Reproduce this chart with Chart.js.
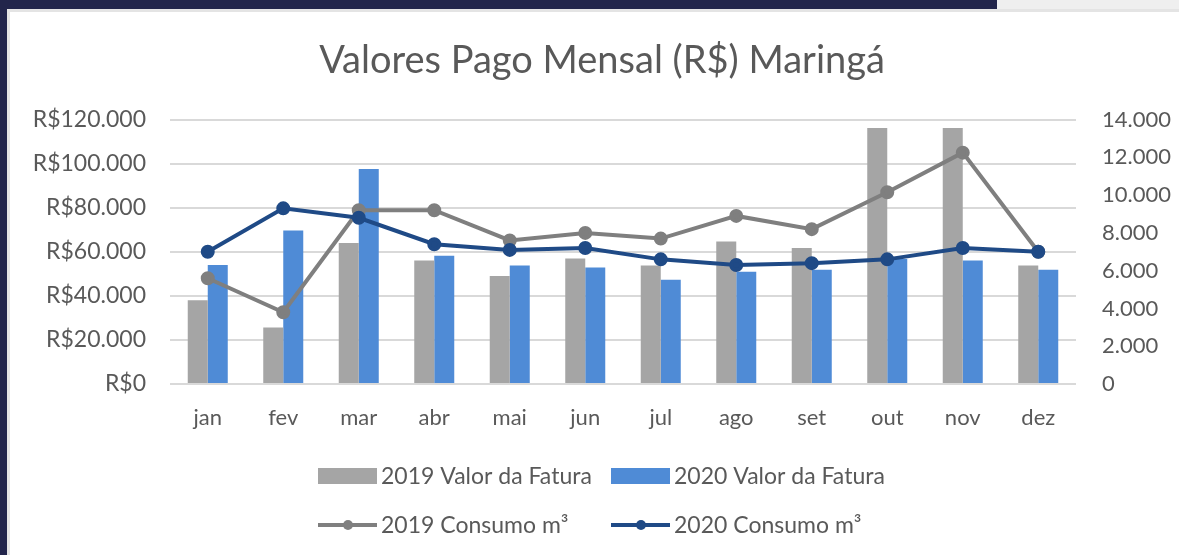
<!DOCTYPE html>
<html lang="pt">
<head>
    <meta charset="UTF-8">
    <title>Valores Pago Mensal (R$) Maringá</title>
    <style>
        html, body {
            margin: 0;
            padding: 0;
            width: 1179px;
            height: 555px;
            overflow: hidden;
            background: #22254b;
        }
        .strip {
            position: absolute;
            left: 997px;
            top: 0;
            width: 182px;
            height: 9px;
            background: #efefef;
        }
        .panel {
            position: absolute;
            left: 7px;
            top: 9px;
            width: 1172px;
            height: 546px;
            background: #ffffff;
            box-sizing: border-box;
            border-left: 3px solid #e4e4e4;
            border-top: 3px solid #e4e4e4;
        }
        #chartWrap {
            position: absolute;
            left: 0;
            top: 0;
            width: 1179px;
            height: 555px;
        }
    </style>
</head>
<body>
    <div class="strip"></div>
    <div class="panel"></div>
    <div id="chartWrap"><canvas id="myChart"></canvas></div>

    <script src="https://cdn.jsdelivr.net/npm/chart.js"></script>
    <script>
        const categories = ['jan', 'fev', 'mar', 'abr', 'mai', 'jun', 'jul', 'ago', 'set', 'out', 'nov', 'dez'];
        const fatura2019 = [38000, 25600, 64000, 56000, 49000, 57000, 53800, 64700, 61700, 116200, 116200, 53800];
        const fatura2020 = [54000, 69700, 97600, 58200, 53800, 52900, 47300, 51000, 51800, 56700, 56000, 51800];
        const consumo2019 = [5600, 3800, 9200, 9200, 7600, 8000, 7700, 8900, 8200, 10150, 12250, 7000];
        const consumo2020 = [7000, 9300, 8800, 7400, 7100, 7200, 6600, 6300, 6400, 6600, 7200, 7000];
        const leftTicks = [0, 20000, 40000, 60000, 80000, 100000, 120000];
        const rightTicks = [0, 2000, 4000, 6000, 8000, 10000, 12000, 14000];

        const textColor = '#595959';
        const fontFamily = 'Lato, "Open Sans", sans-serif';

        function milhar(v) {
            return String(v).replace(/\B(?=(\d{3})+(?!\d))/g, '.');
        }

        // Excel style legend: 2 x 2 grid under the plot
        const gridLegend = {
            id: 'gridLegend',
            afterDraw(chart) {
                const ctx = chart.ctx;
                const cols = [318, 611];
                const rows = [476, 525];
                ctx.save();
                ctx.font = '23px ' + fontFamily;
                ctx.textBaseline = 'middle';
                chart.data.datasets.forEach((ds, i) => {
                    const x = cols[i % 2];
                    const y = rows[Math.floor(i / 2)];
                    if (ds.type === 'line') {
                        ctx.strokeStyle = ds.borderColor;
                        ctx.lineWidth = 4;
                        ctx.beginPath();
                        ctx.moveTo(x, y);
                        ctx.lineTo(x + 59, y);
                        ctx.stroke();
                        ctx.fillStyle = ds.borderColor;
                        ctx.beginPath();
                        ctx.arc(x + 30, y, 5, 0, Math.PI * 2);
                        ctx.fill();
                    } else {
                        ctx.fillStyle = ds.backgroundColor;
                        ctx.fillRect(x, y - 8, 59, 16);
                    }
                    ctx.fillStyle = textColor;
                    ctx.fillText(ds.label, x + 63, y + 1);
                });
                ctx.restore();
            }
        };

        const ctx = document.getElementById('myChart').getContext('2d');
        new Chart(ctx, {
            data: {
                labels: categories,
                datasets: [
                    {
                        type: 'bar',
                        label: '2019 Valor da Fatura',
                        data: fatura2019,
                        backgroundColor: '#a5a5a5',
                        yAxisID: 'y',
                        order: 2
                    },
                    {
                        type: 'bar',
                        label: '2020 Valor da Fatura',
                        data: fatura2020,
                        backgroundColor: '#4f8bd6',
                        yAxisID: 'y',
                        order: 2
                    },
                    {
                        type: 'line',
                        label: '2019 Consumo m³',
                        data: consumo2019,
                        borderColor: '#7f7f7f',
                        backgroundColor: '#7f7f7f',
                        borderWidth: 4,
                        pointRadius: 5,
                        pointHoverRadius: 5,
                        tension: 0,
                        yAxisID: 'y1',
                        order: 1
                    },
                    {
                        type: 'line',
                        label: '2020 Consumo m³',
                        data: consumo2020,
                        borderColor: '#1f4a86',
                        backgroundColor: '#1f4a86',
                        borderWidth: 4,
                        pointRadius: 5,
                        pointHoverRadius: 5,
                        tension: 0,
                        yAxisID: 'y1',
                        order: 0
                    }
                ]
            },
            options: {
                responsive: true,
                maintainAspectRatio: false,
                animation: false,
                layout: {
                    padding: { left: 25, right: 0, top: 0, bottom: 0 }
                },
                datasets: {
                    bar: {
                        categoryPercentage: 0.53,
                        barPercentage: 1
                    }
                },
                plugins: {
                    legend: { display: false },
                    tooltip: { enabled: false },
                    title: {
                        display: true,
                        text: 'Valores Pago Mensal (R$) Maringá',
                        color: textColor,
                        font: { family: fontFamily, size: 38, weight: 'normal' },
                        padding: { top: 38, bottom: 36 }
                    }
                },
                scales: {
                    x: {
                        grid: { display: false },
                        border: { display: false },
                        ticks: {
                            color: textColor,
                            font: { family: fontFamily, size: 22 },
                            padding: 13
                        },
                        afterFit(scale) { scale.height = 171; }
                    },
                    y: {
                        position: 'left',
                        min: 0,
                        max: 120000,
                        afterBuildTicks(scale) {
                            scale.ticks = leftTicks.map(v => ({ value: v }));
                        },
                        grid: { color: '#d9d9d9', lineWidth: 2, drawTicks: false },
                        border: { display: false },
                        ticks: {
                            color: textColor,
                            font: { family: fontFamily, size: 23 },
                            padding: 24,
                            callback: v => 'R$' + milhar(v)
                        },
                        afterFit(scale) { scale.width = 145; }
                    },
                    y1: {
                        position: 'right',
                        min: 0,
                        max: 14000,
                        afterBuildTicks(scale) {
                            scale.ticks = rightTicks.map(v => ({ value: v }));
                        },
                        grid: { display: false, drawTicks: false },
                        border: { display: false },
                        ticks: {
                            color: textColor,
                            font: { family: fontFamily, size: 22 },
                            padding: 26,
                            callback: v => milhar(v)
                        },
                        afterFit(scale) { scale.width = 103; }
                    }
                }
            },
            plugins: [gridLegend]
        });
    </script>
</body>
</html>
